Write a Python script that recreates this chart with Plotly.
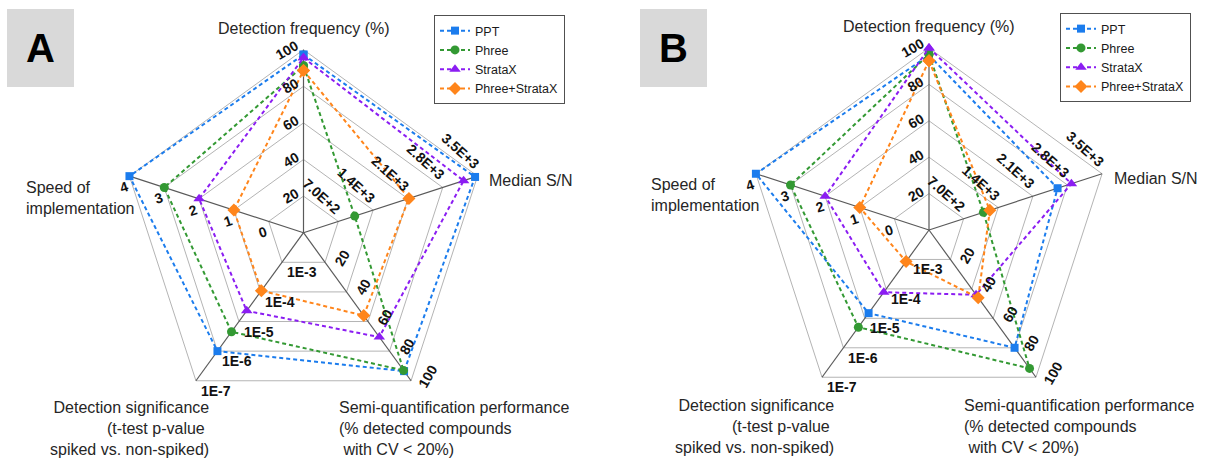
import numpy as np
import plotly.graph_objects as go

# ---- data -------------------------------------------------------------
methods = ["PPT", "Phree", "StrataX", "Phree+StrataX"]

# Panel A
a_detection_freq = [97.3, 91.2, 95.6, 88.6]        # %
a_median_sn = [3450, 1030, 3220, 2120]             # median S/N
a_semiquant = [93.5, 93.0, 70.5, 56.0]             # % compounds with CV < 20%
a_pvalue = [1.0e-6, 4.5e-6, 2.3e-5, 1.1e-4]        # t-test p-value
a_speed = [4, 3, 2, 1]                             # speed of implementation

# Panel B
b_detection_freq = [96.0, 96.5, 100.0, 93.0]
b_median_sn = [2600, 1100, 2880, 1230]
b_semiquant = [80.0, 94.0, 44.0, 46.0]
b_pvalue = [1.5e-5, 5.0e-6, 7.7e-5, 8.5e-4]
b_speed = [4, 3, 2, 1]

# tick labels of each spoke (rings 1..5)
freq_ticks = ["20", "40", "60", "80", "100"]
sn_ticks = ["7.0E+2", "1.4E+3", "2.1E+3", "2.8E+3", "3.5E+3"]
semi_ticks = ["20", "40", "60", "80", "100"]
p_ticks = ["1E-3", "1E-4", "1E-5", "1E-6", "1E-7"]
speed_ticks = ["0", "1", "2", "3", "4"]

# ---- styling ----------------------------------------------------------
colors = ["#1b7ced", "#339933", "#8b1df2", "#ff851b"]
symbols = ["square", "circle", "triangle-up", "diamond"]
msizes = [8, 9, 10, 10]
FONT = "Liberation Sans"
RING_COLOR = "#b4b4b4"
SPOKE_COLOR = "#5a5a5a"

W, H = 1205, 459
# spoke directions: frequency, S/N, semi-quant, significance, speed
theta = np.deg2rad([90, 18, -54, -126, 162])


def to_rings(freq, sn, semi, p, speed):
    """Map each scale onto ring units 0..5."""
    return np.array([
        np.asarray(freq) / 20.0,
        np.asarray(sn) / 700.0,
        np.asarray(semi) / 20.0,
        -np.log10(np.asarray(p)) - 2.0,
        np.asarray(speed) + 1.0,
    ])


panels = [
    dict(letter="A", data=(a_detection_freq, a_median_sn, a_semiquant, a_pvalue, a_speed),
         center=(303.5, 232.7), px=36.6, dom=(0.0, 0.5), xref="x", yref="y",
         legend="legend", box=(7, 9, 74, 87), leg=(434, 15)),
    dict(letter="B", data=(b_detection_freq, b_median_sn, b_semiquant, b_pvalue, b_speed),
         center=(929.0, 230.0), px=36.4, dom=(0.5, 1.0), xref="x2", yref="y2",
         legend="legend2", box=(640, 9, 707, 87), leg=(1060, 13)),
]

fig = go.Figure()
annotations = []
shapes = []
layout_axes = {}

for i, P in enumerate(panels):
    cx, cy = P["center"]
    px = P["px"]
    d0, d1 = P["dom"]
    xname = "xaxis" if i == 0 else "xaxis2"
    yname = "yaxis" if i == 0 else "yaxis2"
    layout_axes[xname] = dict(domain=[d0, d1],
                              range=[-(cx - d0 * W) / px, (d1 * W - cx) / px],
                              visible=False, fixedrange=True)
    layout_axes[yname] = dict(domain=[0, 1], range=[-(H - cy) / px, cy / px],
                              visible=False, fixedrange=True,
                              anchor="x" if i == 0 else "x2")
    if i == 1:
        layout_axes[xname]["anchor"] = "y2"

    # pentagon rings
    gx, gy = [], []
    for k in range(1, 6):
        gx += list(k * np.cos(theta)) + [k * np.cos(theta[0]), None]
        gy += list(k * np.sin(theta)) + [k * np.sin(theta[0]), None]
    fig.add_trace(go.Scatter(x=gx, y=gy, mode="lines", xaxis=P["xref"], yaxis=P["yref"],
                             line=dict(color=RING_COLOR, width=1),
                             showlegend=False, hoverinfo="skip"))
    # spokes
    sx, sy = [], []
    for t in theta:
        sx += [0, 5 * np.cos(t), None]
        sy += [0, 5 * np.sin(t), None]
    fig.add_trace(go.Scatter(x=sx, y=sy, mode="lines", xaxis=P["xref"], yaxis=P["yref"],
                             line=dict(color=SPOKE_COLOR, width=1.2),
                             showlegend=False, hoverinfo="skip"))

    # series
    rings = to_rings(*P["data"])
    for m, name in enumerate(methods):
        r = rings[:, m]
        x = list(r * np.cos(theta)) + [r[0] * np.cos(theta[0])]
        y = list(r * np.sin(theta)) + [r[0] * np.sin(theta[0])]
        fig.add_trace(go.Scatter(
            x=x, y=y, mode="lines+markers", name=name, xaxis=P["xref"], yaxis=P["yref"],
            legend=P["legend"],
            line=dict(color=colors[m], width=2, dash="4px,3px"),
            marker=dict(symbol=symbols[m], size=msizes[m], color=colors[m]),
        ))

    xr, yr = P["xref"], P["yref"]

    def ann(x, y, text, size=14, angle=0, xanchor="center", yanchor="middle",
            align="center", color="#111111"):
        annotations.append(dict(x=x, y=y, xref=xr, yref=yr, text=text, showarrow=False,
                                textangle=angle, xanchor=xanchor, yanchor=yanchor,
                                align=align, font=dict(family=FONT, size=size, color=color)))

    # tick labels along each spoke
    for k in range(1, 6):
        vx, vy = k * np.cos(theta), k * np.sin(theta)
        t = freq_ticks[k - 1]
        ann(vx[0] - (6 + 3.5 * len(t)) / px, vy[0], f"<b>{t}</b>", angle=-30)
        ann(vx[1] - 17 / px, vy[1] + 25 / px, f"<b>{sn_ticks[k - 1]}</b>", angle=42)
        ann(vx[2] + 17 / px, vy[2] + 4.5 / px, f"<b>{semi_ticks[k - 1]}</b>", angle=-60)
        ann(vx[3] + 3 / px, vy[3] - 10 / px, f"<b>{p_ticks[k - 1]}</b>", xanchor="left")
        ann(vx[4] - 5.6 / px, vy[4] - 11 / px, f"<b>{speed_ticks[k - 1]}</b>", angle=-18)

    # axis titles
    tc = "#262626"
    ann(0, 204 / px, "Detection frequency (%)", size=16, color=tc)
    ann(183 / px, 52 / px, "Median S/N", size=16, xanchor="left", color=tc)
    ann(-280 / px, 35 / px, "Speed of<br>implementation", size=16, xanchor="left",
        align="left", color=tc)
    ann(-93 / px, -196 / px,
        "Detection significance<br>(t-test p-value\u00a0<br>spiked vs. non-spiked)",
        size=16, xanchor="right", align="right", color=tc)
    ann(33 / px, -196 / px,
        "Semi-quantification performance<br>(% detected compounds<br>\u00a0with CV &lt; 20%)",
        size=16, xanchor="left", align="left", color=tc)

    # panel letter
    bx0, by0, bx1, by1 = P["box"]
    shapes.append(dict(type="rect", xref="paper", yref="paper",
                       x0=bx0 / W, x1=bx1 / W, y0=1 - by1 / H, y1=1 - by0 / H,
                       fillcolor="#d9d9d9", line=dict(width=0), layer="below"))
    annotations.append(dict(x=(bx0 + bx1) / 2 / W, y=1 - (by0 + by1) / 2 / H,
                            xref="paper", yref="paper", text=f"<b>{P['letter']}</b>",
                            showarrow=False, xanchor="center", yanchor="middle",
                            font=dict(family=FONT, size=40, color="#000000")))

legend_style = dict(bgcolor="white", bordercolor="#505050", borderwidth=1,
                    font=dict(family=FONT, size=12.5, color="#1a1a1a"),
                    xanchor="left", yanchor="top", tracegroupgap=0)

fig.update_layout(
    width=W, height=H,
    margin=dict(l=0, r=0, t=0, b=0),
    paper_bgcolor="white", plot_bgcolor="white",
    showlegend=True,
    legend=dict(x=panels[0]["leg"][0] / W, y=1 - panels[0]["leg"][1] / H, **legend_style),
    legend2=dict(x=panels[1]["leg"][0] / W, y=1 - panels[1]["leg"][1] / H, **legend_style),
    annotations=annotations,
    shapes=shapes,
    **layout_axes,
)

fig.write_html("out.html")
